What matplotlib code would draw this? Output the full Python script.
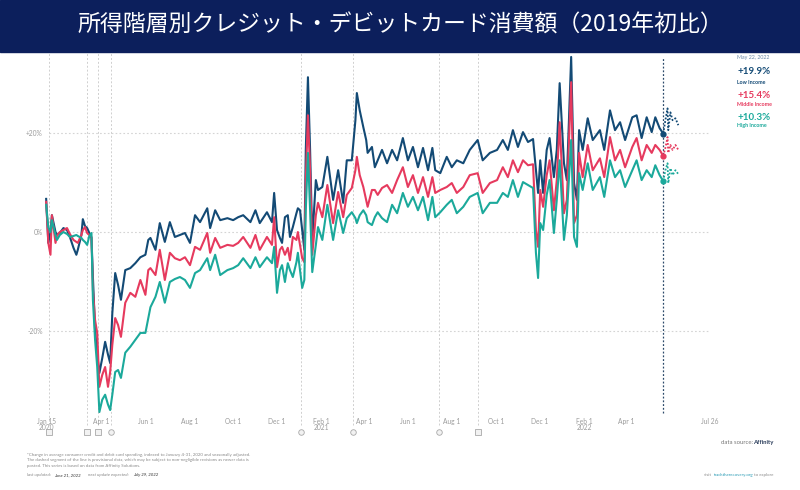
import numpy as np
import pandas as pd
import matplotlib.pyplot as plt
import matplotlib.transforms as mtransforms
from matplotlib.patches import Rectangle

plt.rcParams['font.family'] = ['Lato', 'DejaVu Sans']

# データ（2020年1月15日からの日数、2019年初比 %）
start = pd.Timestamp('2020-01-15')
day_offset = [0, 3, 6, 8, 13, 15, 19, 24, 29, 33, 38, 42, 44, 49, 51, 54, 57, 60, 63,
              65, 68, 71, 74, 78, 82, 86, 89, 92, 96, 100, 104, 110, 117, 124, 131, 138,
              142, 145, 152, 158, 165, 172, 179, 186, 193, 200, 207, 214, 224, 228, 235,
              242, 252, 260, 267, 274, 284, 291, 297, 307, 314, 317, 321, 325, 328, 332,
              336, 339, 343, 348, 350, 353, 356, 359, 361, 364, 367, 370, 375, 378, 384,
              391, 399, 406, 413, 418, 425, 430, 432, 436, 441, 445, 447, 453, 457, 461,
              467, 474, 481, 488, 496, 503, 510, 517, 524, 531, 537, 541, 548, 557, 564,
              571, 580, 589, 600, 607, 617, 627, 635, 642, 649, 656, 663, 670, 677, 681,
              684, 687, 691, 696, 700, 706, 710, 714, 720, 724, 730, 734, 738, 741, 746,
              753, 760, 770, 776, 784, 791, 798, 805, 815, 821, 828, 835, 842, 847, 853,
              858, 861, 864, 865, 868, 871, 875, 879]
low_income = [6.7, -2.2, 0.0, 3.4, 0.0, -0.6, -0.2, 0.8, 0.4, -1.0, -3.2, -4.6, -3.6, -0.6, 2.6, 1.2, 0.8, -0.2, -1.2,
              -9.1, -19.8, -24.8, -28.5, -25.5, -22.2, -24.8, -26.5, -16.4, -8.3, -10.7, -13.7, -7.7, -7.3, -6.3, -5.1, -4.6,
              -1.6, -1.2, -3.6, 1.8, -2.0, 2.0, -1.0, -0.6, -0.2, -2.2, 3.4, 2.0, 4.8, 0.8, 4.4,
              2.4, 2.8, 2.4, 3.0, 3.4, 2.0, 4.4, 1.8, 4.0, 2.0, 7.9, 0.4, -1.2, -2.2, 3.0,
              3.4, -1.0, 1.0, 3.8, 4.8, 4.4, 0.4, -3.6, 16.6, 31.3, 16.6, -1.6, 10.5, 8.5, 9.1,
              15.2, 6.5, 12.5, 5.9, 14.5, 14.5, 22.6, 28.1, 24.6, 21.2, 18.6, 16.0, 17.2, 13.1, 14.5,
              16.6, 13.9, 16.6, 14.5, 19.0, 14.5, 17.2, 13.1, 17.0, 12.5, 17.0, 12.5, 11.9, 15.2, 13.1,
              14.5, 13.9, 16.6, 18.6, 14.5, 16.0, 16.6, 18.6, 16.6, 20.6, 17.2, 20.2, 18.2, 18.8, 12.5,
              7.9, 14.5, 7.9, 16.6, 19.0, 11.1, 16.6, 30.1, 13.9, 10.5, 35.4, 9.9, 6.5, 20.6, 16.6,
              23.0, 18.6, 20.6, 16.6, 24.6, 20.6, 22.2, 18.6, 23.2, 23.6, 19.0, 23.2, 20.2, 23.2, 21.0,
              19.9, 22.6, 25.0, 20.6, 24.2, 22.6, 23.0, 21.6]
middle_income = [6.1, -2.2, -4.6, 3.4, -2.2, -0.8, 0.0, 0.4, 0.8, -0.4, -1.6, -2.0, -2.2, -0.6, 0.4, 1.0, -0.2, -0.6, -1.0,
                 -11.7, -17.8, -20.4, -31.3, -28.9, -27.3, -31.3, -28.3, -22.8, -17.4, -18.8, -21.2, -14.3, -12.3, -13.1, -9.7, -12.7,
                 -7.7, -7.3, -8.7, -3.6, -9.7, -4.2, -5.3, -5.7, -5.1, -6.7, -3.0, -3.6, -0.2, -4.2, -1.2,
                 -3.2, -2.6, -2.8, -2.2, -1.0, -3.2, -0.6, -3.6, -1.0, -2.6, 3.0, -7.1, -3.6, -3.0, -4.6,
                 -3.2, -5.7, -1.0, -1.6, 0.0, -2.6, -5.3, -6.1, 10.5, 23.6, 12.5, -4.6, 3.4, 5.9, 3.0,
                 9.5, 1.8, 8.1, 3.0, 7.5, 8.9, 12.5, 15.2, 11.5, 9.1, 6.5, 5.1, 8.5, 8.5, 7.5,
                 8.9, 9.5, 7.9, 10.5, 13.1, 9.1, 11.5, 7.9, 11.1, 7.1, 11.1, 7.9, 8.5, 9.1, 9.9,
                 7.9, 9.1, 11.5, 11.9, 7.9, 9.9, 10.5, 13.1, 11.1, 14.5, 12.1, 14.5, 13.5, 13.7, 0.4,
                 -3.0, 8.5, 5.1, 11.5, 14.5, 4.4, 10.5, 22.2, 3.8, 6.5, 30.3, 1.8, 3.4, 16.0, 11.1,
                 17.6, 12.5, 14.9, 11.1, 19.2, 14.5, 16.6, 13.1, 17.2, 19.0, 14.5, 17.6, 16.0, 17.6, 16.6,
                 15.4, 17.0, 19.2, 16.0, 17.6, 16.6, 17.6, 16.6]
high_income = [5.5, 1.0, 0.0, 2.4, -0.6, -1.6, -0.6, 0.0, -0.4, -1.0, -0.8, -0.6, -0.8, -1.2, -1.6, -2.0, -2.6, -0.8, -0.2,
               -13.7, -21.8, -27.3, -36.4, -33.9, -32.9, -34.9, -36.0, -32.9, -28.3, -27.9, -29.5, -24.4, -23.2, -21.8, -20.4, -20.4,
               -17.4, -15.2, -13.1, -10.1, -14.3, -10.1, -9.5, -9.1, -9.7, -11.3, -8.3, -7.7, -5.3, -7.7, -4.6,
               -8.7, -7.7, -7.3, -6.7, -5.3, -7.3, -5.1, -7.1, -5.1, -6.3, -3.0, -12.3, -7.7, -6.7, -10.1,
               -6.3, -7.7, -9.1, -6.1, -4.2, -7.7, -11.3, -9.7, 4.4, 16.0, 4.4, -8.1, -2.6, 1.0, -1.6,
               5.5, -1.6, 4.4, -0.2, 2.8, 4.0, 2.8, 1.8, 3.4, 4.4, 3.4, 2.0, 1.4, 3.0, 4.0,
               2.8, 2.0, 5.5, 3.8, 7.9, 5.1, 7.1, 4.4, 7.1, 2.4, 7.1, 3.0, 4.0, 5.5, 6.5,
               3.8, 5.1, 7.1, 7.9, 3.8, 5.9, 5.9, 7.9, 7.1, 10.5, 7.1, 10.1, 9.5, 8.9, -4.2,
               -9.3, 1.8, 0.4, 7.5, 10.5, -0.2, 6.5, 14.5, -1.6, 3.4, 18.6, -1.0, -3.0, 11.9, 8.5,
               13.9, 8.5, 11.1, 7.1, 14.5, 11.1, 12.5, 9.1, 12.5, 14.5, 10.5, 12.5, 11.1, 13.5, 11.5,
               10.3, 12.5, 13.9, 9.9, 12.9, 11.5, 12.5, 11.7]

series_names = ['Low Income', 'Middle Income', 'High Income']
series_values = [low_income, middle_income, high_income]
series_colors = ['#134a75', '#e63a5e', '#1ba99b']

provisional_date = pd.Timestamp('2022-05-22')
event_dates = ['2020-01-19', '2020-03-12', '2020-03-27', '2020-04-14',
               '2021-01-04', '2021-03-17', '2021-07-14', '2021-09-06']
event_icons = ['s', 's', 's', 'o', 'o', 'o', 'o', 's']

tick_dates = ['2020-01-15', '2020-04-01', '2020-06-01', '2020-08-01', '2020-10-01', '2020-12-01',
              '2021-02-01', '2021-04-01', '2021-06-01', '2021-08-01', '2021-10-01', '2021-12-01',
              '2022-02-01', '2022-04-01', '2022-07-26']
tick_labels = ['Jan 15\n2020', 'Apr 1', 'Jun 1', 'Aug 1', 'Oct 1', 'Dec 1',
               'Feb 1\n2021', 'Apr 1', 'Jun 1', 'Aug 1', 'Oct 1', 'Dec 1',
               'Feb 1\n2022', 'Apr 1', 'Jul 26']

dates = start + pd.to_timedelta(day_offset, unit='D')

W, H = 800, 490
fig = plt.figure(figsize=(W / 100, H / 100), dpi=100)

# タイトル帯
fig.patches.append(Rectangle((0, 1 - 52 / H), 1, 52 / H, transform=fig.transFigure,
                             color='#0c1f5c', zorder=0))
fig.text(0.5, 1 - 25 / H, '所得階層別クレジット・デビットカード消費額（2019年初比）',
         family=['Noto Sans CJK JP', 'DejaVu Sans'], fontsize=16.5, color='white',
         ha='center', va='center')

ax = fig.add_axes([44 / W, 1 - 415 / H, (715 - 44) / W, (415 - 52) / H])
ax.set_xlim(pd.Timestamp('2020-01-12'), pd.Timestamp('2022-08-02'))
ax.set_ylim(-37.0, 36.4)
for s in ax.spines.values():
    s.set_visible(False)

trans = mtransforms.blended_transform_factory(ax.transData, ax.transAxes)

# 横グリッド
ax.hlines([20, 0, -20], pd.Timestamp('2020-01-19'), pd.Timestamp('2022-07-26'),
          colors='#d4d4d4', linestyles=(0, (1.5, 2)), lw=0.8, zorder=1)

# イベント線
for d, m in zip(event_dates, event_icons):
    d = pd.Timestamp(d)
    ax.plot([d, d], [-0.028, 1.0], transform=trans, color='#cfcfcf', lw=0.7,
            ls=(0, (2, 2)), clip_on=False, zorder=1)
    ax.plot([d], [-0.047], transform=trans, marker=m, ms=4, mfc='#f2f2f2', mec='#a8a8a8',
            mew=0.6, clip_on=False, zorder=2)

# 暫定値の境界線
ax.plot([provisional_date, provisional_date], [0.005, 0.985], transform=trans,
        color='#2c4a6a', lw=0.9, ls=(0, (1.5, 1.5)), zorder=2)

solid = dates <= provisional_date
dashed = dates >= provisional_date
for vals, c in zip(series_values, series_colors):
    vals = np.array(vals)
    ax.plot(dates[solid], vals[solid], color=c, lw=1.5, zorder=3)
    ax.plot(dates[dashed], vals[dashed], color=c, lw=1.3, ls=(0, (1, 1)), zorder=3)
    ax.plot([provisional_date], [vals[list(dates).index(provisional_date)]], 'o',
            ms=3.5, color=c, zorder=4)

ax.set_yticks([20, 0, -20])
ax.set_yticklabels(['+20%', '0%', '-20%'])
ax.set_xticks(pd.to_datetime(tick_dates))
ax.set_xticklabels(tick_labels, linespacing=0.85)
ax.tick_params(axis='y', length=0, pad=1, labelsize=4.8, labelcolor='#9a9a9a')
ax.tick_params(axis='x', length=0, pad=2, labelsize=4.8, labelcolor='#9a9a9a')

# 右側の凡例
def px(x, y):
    return x / W, 1 - y / H

lx = 737
fig.text(*px(lx, 57), 'May 22, 2022', fontsize=3.8, color='#6d8aa8', va='center')
label_y = [(72, 82), (95, 104), (118, 126)]
for name, vals, c, (y1, y2) in zip(series_names, series_values, series_colors, label_y):
    v = vals[list(dates).index(provisional_date)]
    fig.text(*px(lx, y1), '%+.1f%%' % v, fontsize=7, fontweight='bold', color=c, va='center')
    fig.text(*px(lx, y2), name, fontsize=3.8, fontweight='bold', color=c, va='center')

# 注記
note = ('*Change in average consumer credit and debit card spending, indexed to January 4-31, 2020 and seasonally adjusted.\n'
        'The dashed segment of the line is provisional data, which may be subject to non-negligible revisions as newer data is\n'
        'posted. This series is based on data from Affinity Solutions.')
fig.text(*px(27, 460), note, fontsize=3.2, color='#8a8a8a', va='center', linespacing=1.5)
fig.text(*px(27, 475), 'last updated:', fontsize=3.2, color='#8a8a8a', style='italic', va='center')
fig.text(*px(54, 475), 'June 21, 2022', fontsize=3.2, color='#666', style='italic',
         fontweight='bold', va='center')
fig.text(*px(88, 475), 'next update expected:', fontsize=3.2, color='#8a8a8a', style='italic', va='center')
fig.text(*px(133, 475), 'July 29, 2022', fontsize=3.2, color='#666', style='italic',
         fontweight='bold', va='center')

fig.text(*px(773, 442), 'Affinity', fontsize=4.3, color='#2c3e5c', fontweight='bold',
         ha='right', va='center')
fig.text(*px(753, 442), 'data source:', fontsize=4.3, color='#777', ha='right', va='center')
fig.text(*px(773, 475), 'to explore', fontsize=3.2, color='#8a8a8a', ha='right', va='center')
fig.text(*px(753, 475), 'tracktherecovery.org', fontsize=3.2, color='#2a9bb5', ha='right', va='center')
fig.text(*px(712, 475), 'visit', fontsize=3.2, color='#8a8a8a', ha='right', va='center')

fig.savefig('out.png', dpi=100)
